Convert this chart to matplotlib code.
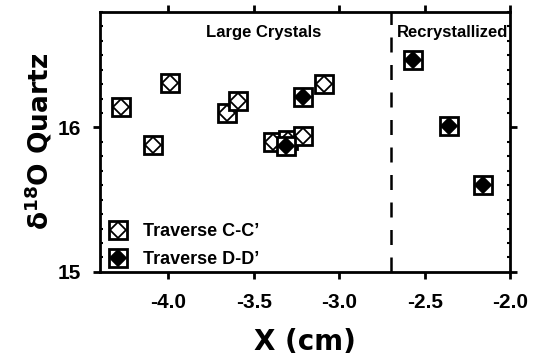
import matplotlib
matplotlib.use("Agg")
import matplotlib.pyplot as plt
from matplotlib.ticker import MultipleLocator

plt.rcParams["font.family"] = ["Liberation Sans", "DejaVu Sans"]
plt.rcParams["font.weight"] = "bold"
plt.rcParams["mathtext.fontset"] = "custom"
plt.rcParams["mathtext.rm"] = "DejaVu Sans:bold"
plt.rcParams["mathtext.bf"] = "DejaVu Sans:bold"

# Traverse C-C' (open diamonds)
cc_x = [-4.28, -4.09, -3.99, -3.66, -3.59, -3.39, -3.30, -3.21, -3.09]
cc_y = [16.14, 15.88, 16.31, 16.10, 16.18, 15.90, 15.91, 15.94, 16.30]
# Traverse D-D' (filled diamonds)
dd_x = [-3.21, -3.31, -2.57, -2.36, -2.16]
dd_y = [16.21, 15.87, 16.47, 16.01, 15.60]

boundary_x = -2.7
xticks = [-4.0, -3.5, -3.0, -2.5, -2.0]
yticks = [15, 16]

fig = plt.figure(figsize=(5.41, 3.62), dpi=100)
ax = fig.add_axes([0.185, 0.249, 0.758, 0.718])

sq = dict(marker="s", markersize=12.5, markerfacecolor="white", markeredgecolor="black",
          markeredgewidth=2.0, linestyle="none")
dia = dict(marker="D", markersize=8, markeredgecolor="black", markeredgewidth=1.3,
           linestyle="none")

for x, y in zip(cc_x, cc_y):
    ax.plot([x], [y], zorder=3, **sq)
    ax.plot([x], [y], markerfacecolor="white", zorder=3, **dia)
for x, y in zip(dd_x, dd_y):
    ax.plot([x], [y], zorder=4, **sq)
    ax.plot([x], [y], markerfacecolor="black", zorder=4, **dia)

h_cc = (ax.plot([], [], **sq)[0], ax.plot([], [], markerfacecolor="white", **dia)[0])
h_dd = (ax.plot([], [], **sq)[0], ax.plot([], [], markerfacecolor="black", **dia)[0])
ax.legend([h_cc, h_dd], ["Traverse C-C\u2019", "Traverse D-D\u2019"], loc="lower left",
          bbox_to_anchor=(0.012, 0.0), frameon=False, prop={"weight": "bold", "size": 13},
          handlelength=1.0, handletextpad=0.9, borderaxespad=0.0, borderpad=0.2,
          labelspacing=0.62)

ax.axvline(boundary_x, color="black", lw=1.8, dashes=(6, 5))

ax.text(-3.44, 16.66, "Large Crystals", ha="center", va="center", fontsize=12, fontweight="bold")
ax.text(-2.335, 16.66, "Recrystallized", ha="center", va="center", fontsize=12, fontweight="bold")

ax.set_xlim(-4.4, -2.0)
ax.set_ylim(15, 16.8)
ax.set_xticks(xticks)
ax.set_xticklabels([f"{t:.1f}" for t in xticks])
ax.set_yticks(yticks)
ax.yaxis.set_minor_locator(MultipleLocator(0.1))
ax.tick_params(axis="both", which="major", direction="out", length=5, width=2,
               labelsize=15, top=True, right=True)
ax.tick_params(axis="x", which="major", pad=10)
ax.tick_params(axis="y", which="major", pad=9)
ax.tick_params(axis="y", which="minor", direction="in", length=2, width=1.5,
               left=True, right=True)
for lab in ax.get_xticklabels() + ax.get_yticklabels():
    lab.set_fontweight("bold")
for s in ax.spines.values():
    s.set_linewidth(2)

ax.set_xlabel("X (cm)", fontsize=20, fontweight="bold", family="DejaVu Sans", labelpad=12)
ax.set_ylabel("\u03b4$^{18}$O Quartz", fontsize=19, fontweight="bold", family="DejaVu Sans",
              labelpad=2)

fig.savefig("out.png", dpi=100)
